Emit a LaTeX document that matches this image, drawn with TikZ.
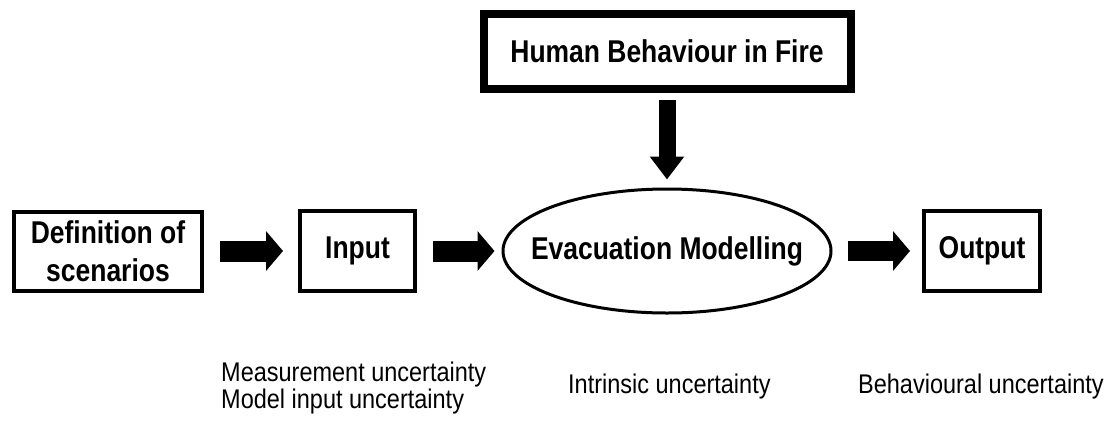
\documentclass[tikz,border=0pt]{standalone}
\usepackage{fontspec}
\setmainfont{Liberation Sans}
\newfontfamily\boxfont[FakeStretch=0.84]{Liberation Sans}
\newfontfamily\notefont[FakeStretch=0.87]{Liberation Sans}
\usetikzlibrary{arrows.meta,shapes.geometric}
\begin{document}
\begin{tikzpicture}[x=1pt,y=-1pt,
  box/.style={draw,line width=4pt,inner sep=0pt,align=center,font=\boxfont\bfseries\fontsize{31.5}{38}\selectfont},
  fatarrow/.style={line width=21pt,-{Triangle[length=17pt,width=39pt]}},
  note/.style={inner sep=0pt,align=left,font=\notefont\fontsize{27}{27}\selectfont}]
\useasboundingbox (0,0) rectangle (1111,421);

\node[box,line width=8pt,minimum width=367pt,minimum height=75pt] (human) at (667,51.5) {Human Behaviour in Fire};
\node[box,minimum width=188pt,minimum height=79pt] (def) at (108,251) {Definition of\\scenarios};
\node[box,minimum width=115pt,minimum height=80pt] (input) at (357.5,251) {Input};
\node[box,ellipse,line width=3pt,inner xsep=-25pt,minimum width=328pt,minimum height=124pt] (eval) at (667,251) {Evacuation Modelling};
\node[box,minimum width=116pt,minimum height=80pt] (output) at (982,251) {Output};

\draw[fatarrow,shorten <=16pt,shorten >=15pt] (def) -- (input);
\draw[fatarrow,shorten <=16pt,shorten >=7pt] (input) -- (eval);
\draw[fatarrow,line width=20pt,shorten <=15pt,shorten >=12pt] (eval) -- (output);
\draw[fatarrow,line width=17pt,-{Triangle[length=23pt,width=33pt]},shorten <=7pt,shorten >=8pt] (human) -- (eval);

\node[note,anchor=north west] (inunc) at (221,362) {Measurement uncertainty\\Model input uncertainty};
\node[note,anchor=base west] (intunc) at (568,393) {Intrinsic uncertainty};
\node[note,anchor=base west] (behunc) at (858,393) {Behavioural uncertainty};
\end{tikzpicture}
\end{document}
